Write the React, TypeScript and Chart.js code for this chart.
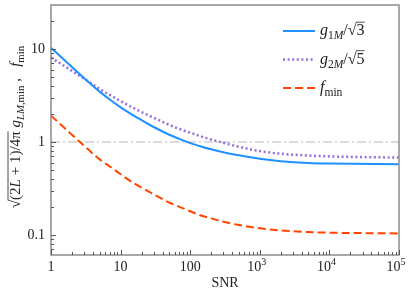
import React, { useEffect, useRef } from 'react';
import { Chart, registerables } from 'chart.js';
Chart.register(...registerables);

// ---------- data ----------
const snr = [1, 1.5, 2, 3, 5, 7, 10, 15, 20, 30, 50, 70, 100, 150, 200, 300, 500, 700, 1000, 2000, 5000, 10000, 100000];
const g1M = [10.3, 7.8, 6.41, 4.85, 3.48, 2.86, 2.36, 1.95, 1.72, 1.45, 1.197, 1.08, 0.972, 0.885, 0.835, 0.776, 0.72, 0.69, 0.66, 0.622, 0.595, 0.587, 0.575];
const g2M = [8.09, 6.67, 5.81, 4.78, 3.73, 3.21, 2.75, 2.34, 2.1, 1.82, 1.53, 1.38, 1.26, 1.135, 1.064, 0.979, 0.889, 0.84, 0.798, 0.748, 0.715, 0.7, 0.68];
const fMin = [1.92, 1.455, 1.197, 0.91, 0.65, 0.546, 0.45, 0.366, 0.324, 0.274, 0.223, 0.201, 0.18, 0.16, 0.151, 0.139, 0.128, 0.123, 0.118, 0.112, 0.1076, 0.106, 0.104];
const refLevel = [1, 1];
const refX = [1, 100000];

const xDecades = [1, 10, 100, 1000, 10000, 100000];
const xBase = ['1', '10', '100', '10', '10', '10'];
const xExp = ['', '', '', '3', '4', '5'];
const yDecades = [0.1, 1, 10];
const yLabels = ['0.1', '1', '10'];

const X_MIN = 1, X_MAX = 100000, Y_MIN = 0.061, Y_MAX = 29.7;

const SERIF = '"Liberation Serif", "DejaVu Serif", serif';

type Seg = { t: string; it?: boolean; sub?: boolean; sup?: boolean; over?: boolean };

function segFont(s: Seg, size: number) {
  const sz = s.sub || s.sup ? size * 0.72 : size;
  return `${s.it ? 'italic ' : ''}${sz}px ${SERIF}`;
}
function measureRich(ctx: CanvasRenderingContext2D, segs: Seg[], size: number) {
  let w = 0;
  for (const s of segs) {
    ctx.font = segFont(s, size);
    w += ctx.measureText(s.t).width;
  }
  return w;
}
function drawRich(ctx: CanvasRenderingContext2D, segs: Seg[], x: number, y: number, size: number, align: 'left' | 'center') {
  const w = measureRich(ctx, segs, size);
  let cx = align === 'center' ? x - w / 2 : x;
  ctx.textAlign = 'left';
  ctx.textBaseline = 'alphabetic';
  for (const s of segs) {
    ctx.font = segFont(s, size);
    const dy = s.sub ? size * 0.25 : s.sup ? -size * 0.4 : 0;
    ctx.fillText(s.t, cx, y + dy);
    const sw = ctx.measureText(s.t).width;
    if (s.over) {
      ctx.save();
      ctx.lineWidth = 0.8;
      ctx.strokeStyle = ctx.fillStyle as string;
      ctx.beginPath();
      ctx.moveTo(cx - 0.5, y - size * 0.8);
      ctx.lineTo(cx + sw, y - size * 0.8);
      ctx.stroke();
      ctx.restore();
    }
    cx += sw;
  }
}

const yTitle: Seg[] = [
  { t: '√' }, { t: '(2', over: true }, { t: 'L', it: true, over: true }, { t: ' + 1)/4π', over: true },
  { t: ' ' }, { t: 'g', it: true }, { t: 'LM', it: true, sub: true }, { t: ',min', sub: true },
  { t: ' ,   ' }, { t: 'f', it: true }, { t: 'min', sub: true },
];
const legendItems: { segs: Seg[]; color: string; dash: number[]; width: number }[] = [
  { segs: [{ t: 'g', it: true }, { t: '1', sub: true }, { t: 'M', it: true, sub: true }, { t: '/' }, { t: '√' }, { t: '3', over: true }], color: '#1E90FF', dash: [], width: 2 },
  { segs: [{ t: 'g', it: true }, { t: '2', sub: true }, { t: 'M', it: true, sub: true }, { t: '/' }, { t: '√' }, { t: '5', over: true }], color: '#9370DB', dash: [2, 2.6], width: 2.5 },
  { segs: [{ t: 'f', it: true }, { t: 'min', sub: true }], color: '#FF4500', dash: [8, 4], width: 2 },
];

const decorPlugin = {
  id: 'decor',
  afterDatasetsDraw(chart: any) {
    const ctx: CanvasRenderingContext2D = chart.ctx;
    const { left, right, top, bottom } = chart.chartArea;
    const xs = chart.scales.x, ys = chart.scales.y;
    ctx.save();
    // frame
    ctx.strokeStyle = '#8c8c8c';
    ctx.lineWidth = 1.5;
    ctx.strokeRect(left, top, right - left, bottom - top);
    // ticks
    ctx.strokeStyle = '#555';
    ctx.lineWidth = 1;
    for (let d = 0; d <= 5; d++) {
      for (let m = 1; m <= 9; m++) {
        const v = m * Math.pow(10, d);
        if (v < X_MIN || v > X_MAX) continue;
        const px = Math.round(xs.getPixelForValue(v)) + 0.5;
        const len = m === 1 ? 5 : 3;
        ctx.beginPath(); ctx.moveTo(px, bottom); ctx.lineTo(px, bottom - len); ctx.stroke();
      }
    }
    for (let d = -2; d <= 1; d++) {
      for (let m = 1; m <= 9; m++) {
        const v = m * Math.pow(10, d);
        if (v < Y_MIN || v > Y_MAX) continue;
        const py = Math.round(ys.getPixelForValue(v)) + 0.5;
        const len = m === 1 ? 5 : 3;
        ctx.beginPath(); ctx.moveTo(left, py); ctx.lineTo(left + len, py); ctx.stroke();
      }
    }
    // x tick labels
    ctx.fillStyle = '#222';
    xDecades.forEach((v, i) => {
      const px = xs.getPixelForValue(v);
      const segs: Seg[] = [{ t: xBase[i] }];
      if (xExp[i]) segs.push({ t: xExp[i], sup: true });
      drawRich(ctx, segs, px - (xExp[i] ? 3 : 0), bottom + 16, 14, 'center');
    });
    // x title
    drawRich(ctx, [{ t: 'SNR' }], (left + right) / 2, 287, 14, 'center');
    // y title
    ctx.save();
    ctx.translate(20, (top + bottom) / 2 - 3);
    ctx.rotate(-Math.PI / 2);
    drawRich(ctx, yTitle, 0, 0, 15, 'center');
    ctx.restore();
    // legend
    legendItems.forEach((it, i) => {
      const y = 31 + i * 28.5;
      ctx.save();
      ctx.strokeStyle = it.color;
      ctx.lineWidth = it.width;
      ctx.setLineDash(it.dash);
      ctx.beginPath(); ctx.moveTo(283, y); ctx.lineTo(315, y); ctx.stroke();
      ctx.restore();
      ctx.fillStyle = '#222';
      drawRich(ctx, it.segs, 320, y + 4, 16, 'left');
    });
    ctx.restore();
  },
};

export default function App() {
  const ref = useRef<HTMLCanvasElement | null>(null);
  useEffect(() => {
    document.body.style.margin = '0';
    const canvas = ref.current!;
    const mk = (ys: number[]) => snr.map((x, i) => ({ x, y: ys[i] }));
    const chart = new Chart(canvas, {
      type: 'line',
      data: {
        datasets: [
          { label: 'g1M', data: mk(g1M), borderColor: '#1E90FF', borderWidth: 2, pointRadius: 0, cubicInterpolationMode: 'monotone', fill: false },
          { label: 'g2M', data: mk(g2M), borderColor: '#9370DB', borderWidth: 2.5, borderDash: [2, 2.6], pointRadius: 0, cubicInterpolationMode: 'monotone', fill: false },
          { label: 'fmin', data: mk(fMin), borderColor: '#FF4500', borderWidth: 2, borderDash: [8, 4], pointRadius: 0, cubicInterpolationMode: 'monotone', fill: false },
          { label: 'ref', data: refX.map((x, i) => ({ x, y: refLevel[i] })), borderColor: '#cfcfcf', borderWidth: 1.5, borderDash: [9, 3, 2, 3], pointRadius: 0, fill: false },
        ] as any,
      },
      options: {
        responsive: false,
        animation: false,
        layout: { padding: { top: 5, right: 16, left: 0, bottom: 0 } },
        plugins: { legend: { display: false }, tooltip: { enabled: false } },
        scales: {
          x: {
            type: 'logarithmic', min: X_MIN, max: X_MAX,
            grid: { display: false, drawTicks: false },
            border: { display: false },
            ticks: { display: false },
            afterFit: (s: any) => { s.height = 43; s.paddingLeft = 0; s.paddingRight = 0; s.paddingTop = 0; s.paddingBottom = 0; },
          },
          y: {
            type: 'logarithmic', min: Y_MIN, max: Y_MAX,
            grid: { display: false, drawTicks: false },
            border: { display: false },
            afterBuildTicks: (s: any) => { s.ticks = yDecades.map((v) => ({ value: v })); },
            ticks: {
              autoSkip: false, padding: 6, color: '#222',
              font: { family: SERIF, size: 14 },
              callback: (v: any) => { const k = yDecades.indexOf(Number(v)); return k >= 0 ? yLabels[k] : ''; },
            },
            afterFit: (s: any) => { s.width = 51; s.paddingTop = 0; s.paddingBottom = 0; s.paddingLeft = 0; s.paddingRight = 0; },
          },
        },
      } as any,
      plugins: [decorPlugin],
    });
    return () => chart.destroy();
  }, []);
  return (
    <div style={{ width: 415, height: 298 }}>
      <canvas ref={ref} width={415} height={298} style={{ display: 'block' }} />
    </div>
  );
}
